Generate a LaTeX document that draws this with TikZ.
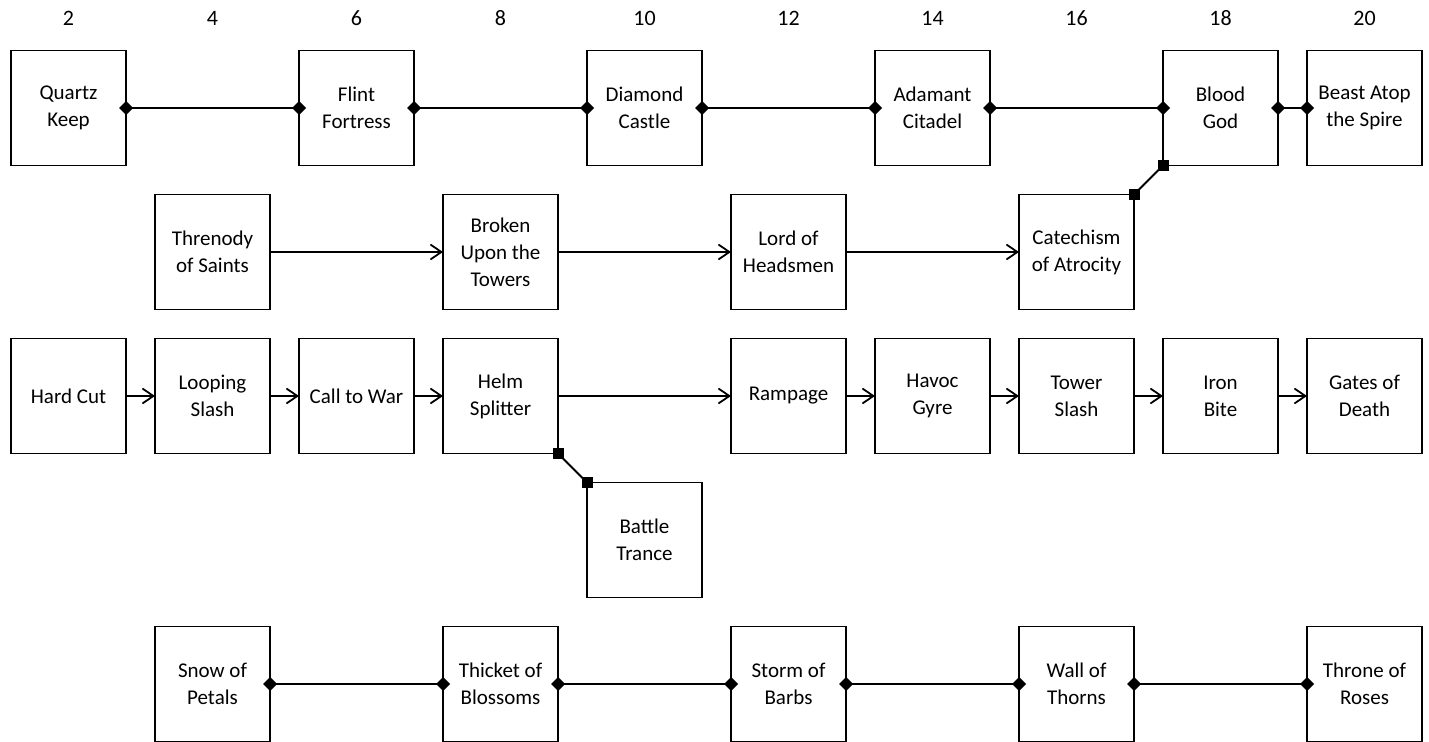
\documentclass[tikz,border=0pt]{standalone}
\usepackage{fontspec}
\setmainfont{Carlito}
\usetikzlibrary{arrows.meta, positioning}

\begin{document}
\begin{tikzpicture}[
    x=72pt, y=-144pt,
    skill/.style={
        rectangle,
        draw=black,
        line width=1.8pt,
        fill=white,
        minimum width=115pt,
        minimum height=115pt,
        inner sep=2pt,
        outer sep=0pt,
        align=center,
        font=\fontsize{21}{27}\selectfont
    },
    level/.style={
        font=\fontsize{22}{26}\selectfont
    },
    link/.style={
        {Diamond[length=14pt,width=14pt]}-{Diamond[length=14pt,width=14pt]},
        line width=1.8pt,
        shorten <=-7pt,
        shorten >=-7pt
    },
    chain/.style={
        -{Straight Barb[length=11pt,width=15pt]},
        line width=1.8pt
    },
    branch/.style={
        line width=1.8pt
    }
]

% Picture size
\useasboundingbox (1.0486,0.25) rectangle (20.896,5.4028);

% Level numbers
\foreach \n in {2,4,...,20} {
    \node[level] (lvl\n) at (\n,0.375) {\n};
}

% Top row
\node[skill] (quartz) at (2,1) {Quartz\\Keep};
\node[skill] (flint) at (6,1) {Flint\\Fortress};
\node[skill] (diamond) at (10,1) {Diamond\\Castle};
\node[skill] (adamant) at (14,1) {Adamant\\Citadel};
\node[skill] (blood) at (18,1) {Blood\\God};
\node[skill] (beast) at (20,1) {Beast Atop\\the Spire};

% Second row
\node[skill] (threnody) at (4,2) {Threnody\\of Saints};
\node[skill] (broken) at (8,2) {Broken\\Upon the\\Towers};
\node[skill] (lord) at (12,2) {Lord of\\Headsmen};
\node[skill] (cate) at (16,2) {Catechism\\of Atrocity};

% Third row
\node[skill] (hard) at (2,3) {Hard Cut};
\node[skill] (looping) at (4,3) {Looping\\Slash};
\node[skill] (call) at (6,3) {Call to War};
\node[skill] (helm) at (8,3) {Helm\\Splitter};
\node[skill] (rampage) at (12,3) {Rampage};
\node[skill] (havoc) at (14,3) {Havoc\\Gyre};
\node[skill] (tower) at (16,3) {Tower\\Slash};
\node[skill] (iron) at (18,3) {Iron\\Bite};
\node[skill] (gates) at (20,3) {Gates of\\Death};

\node[skill] (trance) at (10,4) {Battle\\Trance};

% Bottom row
\node[skill] (snow) at (4,5) {Snow of\\Petals};
\node[skill] (thicket) at (8,5) {Thicket of\\Blossoms};
\node[skill] (storm) at (12,5) {Storm of\\Barbs};
\node[skill] (wall) at (16,5) {Wall of\\Thorns};
\node[skill] (throne) at (20,5) {Throne of\\Roses};

% Connections
\draw[link] (quartz) -- (flint);
\draw[link] (flint) -- (diamond);
\draw[link] (diamond) -- (adamant);
\draw[link] (adamant) -- (blood);
\draw[link] (blood) -- (beast);

\draw[chain] (threnody) -- (broken);
\draw[chain] (broken) -- (lord);
\draw[chain] (lord) -- (cate);

\draw[chain] (hard) -- (looping);
\draw[chain] (looping) -- (call);
\draw[chain] (call) -- (helm);
\draw[chain] (helm) -- (rampage);
\draw[chain] (rampage) -- (havoc);
\draw[chain] (havoc) -- (tower);
\draw[chain] (tower) -- (iron);
\draw[chain] (iron) -- (gates);

\draw[link] (snow) -- (thicket);
\draw[link] (thicket) -- (storm);
\draw[link] (storm) -- (wall);
\draw[link] (wall) -- (throne);

\draw[branch] (cate.north east) -- (blood.south west);
\draw[branch] (helm.south east) -- (trance.north west);

% Square ends of the branches
\foreach \c in {cate.north east, blood.south west, helm.south east, trance.north west} {
    \fill ([shift={(-5.5pt,-5.5pt)}]\c) rectangle +(11pt,11pt);
}

\end{tikzpicture}
\end{document}
